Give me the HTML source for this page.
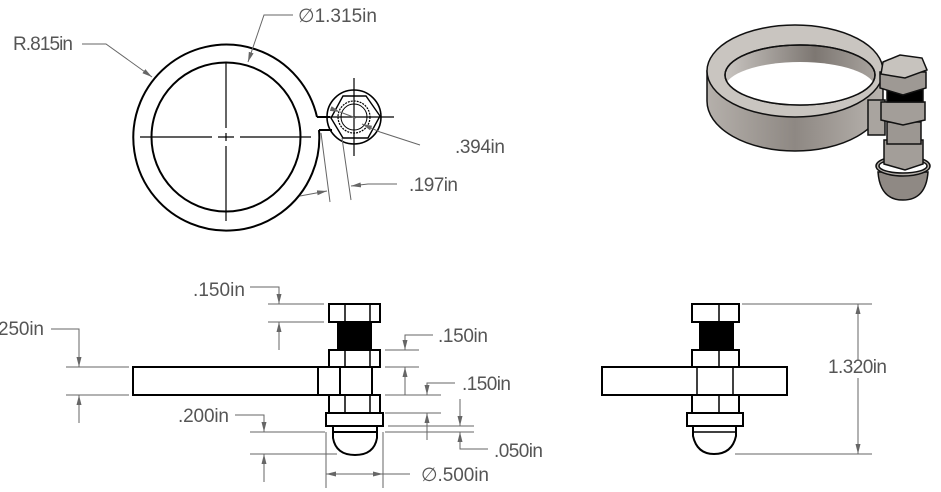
<!DOCTYPE html>
<html><head><meta charset="utf-8"><style>
html,body{margin:0;padding:0;background:#fff;width:941px;height:492px;overflow:hidden}
svg{display:block}
text{font-family:"Liberation Sans",sans-serif;font-size:19px;fill:#555}
</style></head><body>
<svg width="941" height="492" viewBox="0 0 941 492" xmlns="http://www.w3.org/2000/svg">
<defs>
<marker id="a" markerWidth="10" markerHeight="6" refX="10" refY="3" orient="auto" markerUnits="userSpaceOnUse"><path d="M0,0.5 L10,3 L0,5.5z" fill="#666"/></marker>
<linearGradient id="wall" x1="0" x2="1"><stop offset="0" stop-color="#b5b0ab"/><stop offset="0.5" stop-color="#8e8883"/><stop offset="1" stop-color="#b8b3ae"/></linearGradient>
<linearGradient id="iw" x1="0" x2="1"><stop offset="0" stop-color="#c9c5c1"/><stop offset="0.6" stop-color="#7d7772"/><stop offset="1" stop-color="#a8a39e"/></linearGradient>
<clipPath id="hole"><ellipse cx="800" cy="75" rx="75" ry="30"/></clipPath>
</defs>

<!-- ===== TOP VIEW ===== -->
<g fill="none" stroke="#000" stroke-width="2">
<path d="M317,117 A93,93 0 1 0 319,130"/>
<circle cx="226" cy="137" r="74.5"/>
<path d="M317,117 L330,117 M319,130 L332,130"/>
<circle cx="354" cy="117" r="27" stroke-width="1.6"/>
<polygon points="343,96 366,96 380,116 368,138 343,138 331,118" stroke-width="1.4"/>
<circle cx="354" cy="117" r="16" stroke-width="1.2" stroke-dasharray="2,1"/>
<circle cx="354" cy="117" r="13" stroke-width="1"/>
</g>
<g stroke="#000" stroke-width="1.2" fill="none">
<path d="M140,137 H212 M218,137 H234 M240,137 H311"/>
<path d="M226,63 V128 M226,133 V141 M226,146 V221"/>
<path d="M330,117 H394 M354,78 V156"/>
</g>
<g stroke="#666" stroke-width="1" fill="none">
<path d="M82,44 H106 L152,77" marker-end="url(#a)"/>
<path d="M293,15 H264 L248,62" marker-end="url(#a)"/>
<path d="M420,145 L380,132 L362,124" marker-end="url(#a)"/>
<path d="M340,112 L356,118" marker-start="url(#a)"/>
<path d="M321,133 L330,202 M342,138 L351,200"/>
<path d="M300,196 L327,191" marker-end="url(#a)"/>
<path d="M397,184 H368 L351,186" marker-end="url(#a)"/>
</g>
<text x="13" y="50" textLength="60">R.815in</text>
<text x="298" y="22" textLength="79">∅1.315in</text>
<text x="455" y="153" textLength="50">.394in</text>
<text x="409" y="191" textLength="49">.197in</text>

<!-- ===== ISO VIEW ===== -->
<g stroke="#111" stroke-width="1.5">
<path d="M707,71 L707,101 A88,50 0 0 0 883,101 L883,71 Z" fill="url(#wall)"/>
<path d="M868,100 L885,100 L885,135 L868,135 Z" fill="#a9a49f"/>
<ellipse cx="795" cy="71" rx="88" ry="46" fill="#c9c5c0"/>
<ellipse cx="800" cy="75" rx="75" ry="30" fill="url(#iw)"/>
<ellipse cx="800" cy="88" rx="75" ry="26" fill="#fff" stroke="none" clip-path="url(#hole)"/>
<ellipse cx="800" cy="75" rx="75" ry="30" fill="none"/>
<path d="M878,172 Q880,200 903,200 Q926,200 928,172 Z" fill="#8f8984"/>
<ellipse cx="903" cy="166" rx="27" ry="10" fill="#b5b0ab"/>
<ellipse cx="903" cy="166" rx="24" ry="7" fill="#fff"/>
<path d="M884,140 L884,164 L905,170 L923,164 L923,140 Z" fill="#a39e99"/>
<rect x="887" y="122" width="34" height="22" fill="#9c9792"/>
<path d="M881,102 L881,120 L903,125 L925,120 L925,102 Z" fill="#a39e99"/>
<rect x="887" y="86" width="36" height="16" fill="#000"/>
<path d="M880,72 L880,88 L903,95 L926,88 L926,72 Z" fill="#9e9994"/>
<polygon points="883,62 900,55 922,58 927,70 905,78 881,74" fill="#c7c3be"/>
</g>

<!-- ===== FRONT VIEW ===== -->
<g fill="#fff" stroke="#000" stroke-width="2">
<rect x="133" y="367" width="185" height="28"/>
<rect x="318" y="367" width="54" height="28"/>
<line x1="340" y1="367" x2="340" y2="395"/>
<rect x="338" y="322" width="33" height="28" fill="#000"/>
<rect x="329" y="304" width="51" height="18"/>
<rect x="329" y="350" width="51" height="17"/>
<rect x="329" y="395" width="51" height="18"/>
<rect x="326" y="413" width="57" height="13"/>
<path d="M333,432 L333,438 Q336,455 355,455 Q374,455 377,438 L377,432 Z"/>
<line x1="333" y1="426" x2="333" y2="432"/><line x1="377" y1="426" x2="377" y2="432"/>
</g>
<g stroke="#000" stroke-width="1.5">
<path d="M345,304 V322 M370,304 V322 M345,350 V367 M370,350 V367 M345,395 V413 M370,395 V413 M333,432 H377"/>
</g>
<g stroke="#666" stroke-width="1" fill="none">
<path d="M268,304 H324 M268,322 H324"/>
<path d="M250,287 H279 V304" marker-end="url(#a)"/>
<path d="M279,350 V322" marker-end="url(#a)"/>
<path d="M66,367 H129 M66,395 H129"/>
<path d="M51,329 H79 V367" marker-end="url(#a)"/>
<path d="M79,423 V395" marker-end="url(#a)"/>
<path d="M385,350 H419 M385,367 H419"/>
<path d="M433,335 H405 V350" marker-end="url(#a)"/>
<path d="M405,395 V367" marker-end="url(#a)"/>
<path d="M385,395 H441 M385,413 H441"/>
<path d="M455,383 H427 V395" marker-end="url(#a)"/>
<path d="M427,440 V413" marker-end="url(#a)"/>
<path d="M388,426 H474 M385,432 H474"/>
<path d="M460,399 V426" marker-end="url(#a)"/>
<path d="M488,449 H460 V432" marker-end="url(#a)"/>
<path d="M250,432 H325 M250,454 H337"/>
<path d="M235,415 H264 V432" marker-end="url(#a)"/>
<path d="M264,482 V454" marker-end="url(#a)"/>
<path d="M326,432 V488 M383,432 V488"/>
<path d="M355,474 H326" marker-end="url(#a)"/>
<path d="M355,474 H383" marker-end="url(#a)"/>
<path d="M383,474 H410"/>
</g>
<text x="193" y="296" textLength="52">.150in</text>
<text x="-2" y="335" textLength="46">250in</text>
<text x="438" y="342" textLength="50">.150in</text>
<text x="462" y="390" textLength="49">.150in</text>
<text x="178" y="422" textLength="51">.200in</text>
<text x="494" y="457" textLength="49">.050in</text>
<text x="421" y="481" textLength="68">∅.500in</text>

<!-- ===== SIDE VIEW ===== -->
<g fill="#fff" stroke="#000" stroke-width="2">
<rect x="602" y="367" width="185" height="28"/>
<rect x="700" y="322" width="33" height="28" fill="#000"/>
<rect x="692" y="304" width="47" height="18"/>
<rect x="692" y="350" width="47" height="17"/>
<rect x="692" y="395" width="47" height="18"/>
<rect x="687" y="413" width="56" height="13"/>
<path d="M693,426 L693,436 Q697,454 714,454 Q732,454 736,436 L736,426 Z"/>
</g>
<g stroke="#000" stroke-width="1.5">
<path d="M719,304 V322 M719,350 V367 M719,395 V413 M697,367 V395 M733,367 V395 M693,432 H736"/>
</g>
<g stroke="#666" stroke-width="1" fill="none">
<path d="M742,304 H872 M735,454 H872"/>
<path d="M858,360 V304" marker-end="url(#a)"/>
<path d="M858,378 V454" marker-end="url(#a)"/>
</g>
<text x="828" y="373" textLength="59">1.320in</text>
</svg>
</body></html>
